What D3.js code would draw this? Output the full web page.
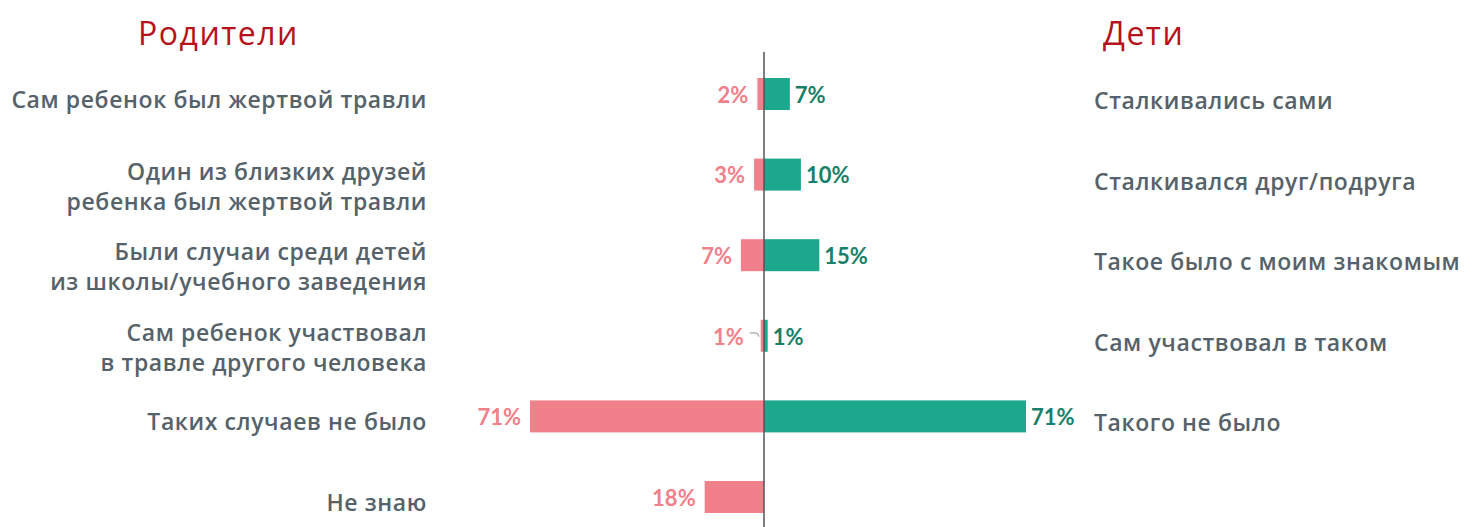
<!DOCTYPE html>
<html>
<head>
<meta charset="utf-8">
<script src="https://cdn.jsdelivr.net/npm/d3@7"></script>
<style>
    body { margin: 0; background: #fff; }
    svg { display: block; }
    .cat-label { font-family: 'Open Sans', sans-serif; font-size: 23px; font-weight: 600; letter-spacing: 0.6px; fill: #56626a; }
    .val-label { font-family: Lato, 'Open Sans', sans-serif; font-size: 22px; font-weight: 700; }
    .title { font-family: 'Open Sans', sans-serif; font-size: 32px; letter-spacing: 1.5px; fill: #b5121b; }
</style>
</head>
<body>
<svg width="1481" height="527"></svg>
<script>
'use strict';

/////////////////////////////// data ///////////////////////////////
var parentLabels = [
    ['Сам ребенок был жертвой травли'],
    ['Один из близких друзей', 'ребенка был жертвой травли'],
    ['Были случаи среди детей', 'из школы/учебного заведения'],
    ['Сам ребенок участвовал', 'в травле другого человека'],
    ['Таких случаев не было'],
    ['Не знаю']
];
var childLabels = [
    'Сталкивались сами',
    'Сталкивался друг/подруга',
    'Такое было с моим знакомым',
    'Сам участвовал в таком',
    'Такого не было',
    null
];
var parentValues = [2, 3, 7, 1, 71, 18];
var childValues = [7, 10, 15, 1, 71, null];

var titles = ['Родители', 'Дети'];

/////////////////////////////// set up ///////////////////////////////
var svg = d3.select('svg'),
    center = 764,
    barHeight = 32;

var rows = d3.range(parentValues.length);

var y = d3.scalePoint()
    .domain(rows)
    .range([94, 497]);

// the two halves are not drawn on the same scale in the original
var xLeft = d3.scaleLinear().domain([0, 71]).range([0, 234]);
var xRight = d3.scaleLinear().domain([0, 71]).range([0, 262]);

var pink = '#f0808a',
    pinkText = '#f0808a',
    teal = '#1ba88c',
    tealText = '#188069';

// titles
svg.append('text')
    .attr('class', 'title')
    .attr('x', 138)
    .attr('y', 45)
    .text(titles[0]);
svg.append('text')
    .attr('class', 'title')
    .attr('x', 1103)
    .attr('y', 45)
    .text(titles[1]);

// parent bars
svg.selectAll('.bar-left')
    .data(rows)
    .enter()
    .append('rect')
    .attr('class', 'bar-left')
    .attr('x', function(i) { return center - xLeft(parentValues[i]); })
    .attr('y', function(i) { return y(i) - barHeight / 2; })
    .attr('width', function(i) { return xLeft(parentValues[i]); })
    .attr('height', barHeight)
    .attr('fill', pink);

// child bars
var childRows = rows.filter(function(i) { return childValues[i] !== null; });
svg.selectAll('.bar-right')
    .data(childRows)
    .enter()
    .append('rect')
    .attr('class', 'bar-right')
    .attr('x', center)
    .attr('y', function(i) { return y(i) - barHeight / 2; })
    .attr('width', function(i) { return xRight(childValues[i]); })
    .attr('height', barHeight)
    .attr('fill', teal);

// center line
svg.append('line')
    .attr('x1', center).attr('x2', center)
    .attr('y1', 52).attr('y2', 527)
    .attr('stroke', '#555')
    .attr('stroke-width', 1.5);

// value labels, small bars get a leader line
var SMALL = 5;
svg.selectAll('.val-left')
    .data(rows)
    .enter()
    .append('text')
    .attr('class', 'val-left val-label')
    .attr('x', function(i) {
        var w = xLeft(parentValues[i]);
        return center - w - (w < SMALL ? 17 : 9);
    })
    .attr('y', function(i) { return y(i) + 1; })
    .attr('dy', '0.35em')
    .attr('text-anchor', 'end')
    .attr('fill', pinkText)
    .text(function(i) { return parentValues[i] + '%'; });

svg.selectAll('.leader')
    .data(rows.filter(function(i) { return xLeft(parentValues[i]) < SMALL; }))
    .enter()
    .append('path')
    .attr('class', 'leader')
    .attr('d', function(i) {
        var x0 = center - xLeft(parentValues[i]);
        return 'M' + (x0 - 11) + ',' + (y(i) - 3) +
            'L' + (x0 - 6) + ',' + (y(i) - 3) +
            'Q' + (x0 - 2) + ',' + (y(i) - 3) + ' ' + (x0 - 2) + ',' + (y(i) + 1);
    })
    .attr('fill', 'none')
    .attr('stroke', '#aaa')
    .attr('stroke-width', 1.2);

svg.selectAll('.val-right')
    .data(childRows)
    .enter()
    .append('text')
    .attr('class', 'val-right val-label')
    .attr('x', function(i) { return center + xRight(childValues[i]) + 5; })
    .attr('y', function(i) { return y(i) + 1; })
    .attr('dy', '0.35em')
    .attr('fill', tealText)
    .text(function(i) { return childValues[i] + '%'; });

// category labels
var lineHeight = 30;
var leftLabels = svg.selectAll('.cat-left')
    .data(rows)
    .enter()
    .append('text')
    .attr('class', 'cat-left cat-label')
    .attr('text-anchor', 'end')
    .attr('y', function(i) {
        var n = parentLabels[i].length;
        return y(i) + (n > 1 ? 12 : 6) - (n - 1) * lineHeight / 2;
    });
leftLabels.selectAll('tspan')
    .data(function(i) { return parentLabels[i]; })
    .enter()
    .append('tspan')
    .attr('x', 427)
    .attr('dy', function(d, k) { return k === 0 ? '0.35em' : lineHeight; })
    .text(function(d) { return d; });

svg.selectAll('.cat-right')
    .data(childRows)
    .enter()
    .append('text')
    .attr('class', 'cat-right cat-label')
    .attr('x', 1094)
    .attr('y', function(i) { return y(i) + 7; })
    .attr('dy', '0.35em')
    .text(function(i) { return childLabels[i]; });
</script>
</body>
</html>
